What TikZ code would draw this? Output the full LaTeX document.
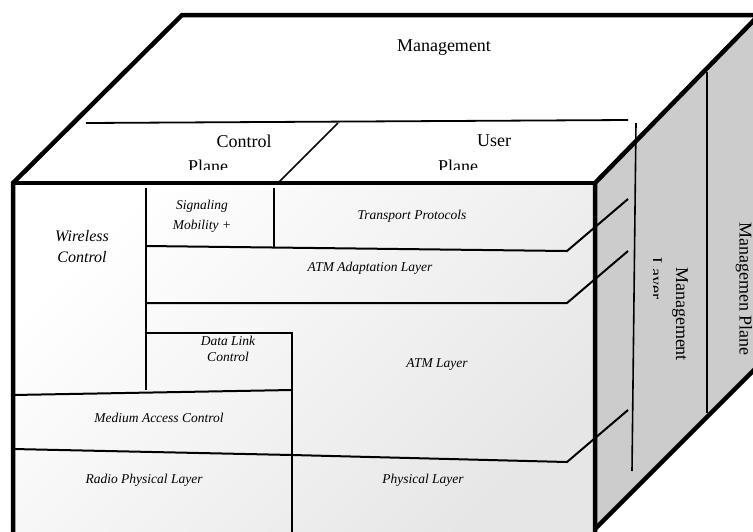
\documentclass[tikz,border=0pt]{standalone}
\usepackage{fontspec}
\setmainfont{Liberation Serif}
\definecolor{sidegray}{HTML}{CCCCCC}
\definecolor{facegray}{HTML}{E6E6E6}

\begin{document}
\begin{tikzpicture}[x=1pt, y=-1pt,
    cubeedge/.style={line width=4.5pt, line join=miter},
    divider/.style={line width=2pt},
    proto/.style={font=\itshape\fontsize{13.5}{16.5}\selectfont, align=center, inner sep=0pt},
    plane/.style={font=\fontsize{18}{22}\selectfont, inner sep=0pt}]
      \useasboundingbox (0,0) rectangle (753,531);
      \clip (0,0) rectangle (753,531);
      \fill[white] (13,183) -- (182,15) -- (759,15) -- (595,183) -- cycle;
      \fill[sidegray] (595,183) -- (759,15) -- (770,15) -- (770,354) -- (595,529) -- cycle;
      \shade[top color=white, bottom color=facegray, shading angle=45] (13,183) rectangle (595,540);
      \draw[line width=1.8pt] (86,123) -- (628,120);
      \draw[line width=1.5pt] (338,123) -- (278,183);
      \draw[line width=1.6pt] (636,123) -- (632,471);
      \draw[line width=1.6pt] (707,72) -- (707,413);
      \draw[divider] (146,188) -- (146,390);
      \draw[divider] (274,188) -- (274,247);
      \draw[divider] (146,246) -- (567,251) -- (628,199);
      \draw[divider] (146,303) -- (567,303) -- (628,251);
      \draw[divider] (146,333) -- (292,333) -- (292,540);
      \draw[divider] (13,395) -- (292,390);
      \draw[divider] (13,449) -- (292,455) -- (567,462) -- (628,410);
      \node[plane] (mgmt) at (444,48) {Management};
      \node[plane] (ctrl) at (244,141) {Control};
      \node[plane] (user) at (494,141) {User};
      \begin{scope}
        \clip (0,0) rectangle (753,169.5);
        \node[plane] (ctrlplane) at (208,166.5) {Plane};
        \node[plane] (userplane) at (458,166.5) {Plane};
      \end{scope}
      \node[plane, rotate=-90] (mgmtlayer) at (680,314) {Management};
      \begin{scope}
        \clip (653,0) rectangle (753,531);
        \node[plane, rotate=-90] (layer) at (654,278) {Layer};
      \end{scope}
      \node[plane, rotate=-90] (mgmtplane) at (744,289) {Managemen Plane};
      \node[proto, font=\itshape\fontsize{16}{21}\selectfont] (wireless) at (82,247) {Wireless\\Control};
      \node[proto, font=\itshape\fontsize{13.5}{20}\selectfont] (signal) at (202,216) {Signaling\\Mobility +};
      \node[proto] (transport) at (412,216) {Transport Protocols};
      \node[proto] (aal) at (370,268) {ATM Adaptation Layer};
      \node[proto] (dlc) at (228,349) {Data Link\\Control};
      \node[proto] (atm) at (437,364) {ATM Layer};
      \node[proto] (mac) at (159,418) {Medium Access Control};
      \node[proto] (radio) at (144,480) {Radio Physical Layer};
      \node[proto] (phy) at (423,480) {Physical Layer};
      \draw[cubeedge] (13,540) -- (13,183) -- (182,15) -- (759,15) -- (595,183) -- (595,540);
      \draw[cubeedge] (13,183) -- (595,183);
      \draw[cubeedge] (595,529) -- (770,354);
\end{tikzpicture}
\end{document}
